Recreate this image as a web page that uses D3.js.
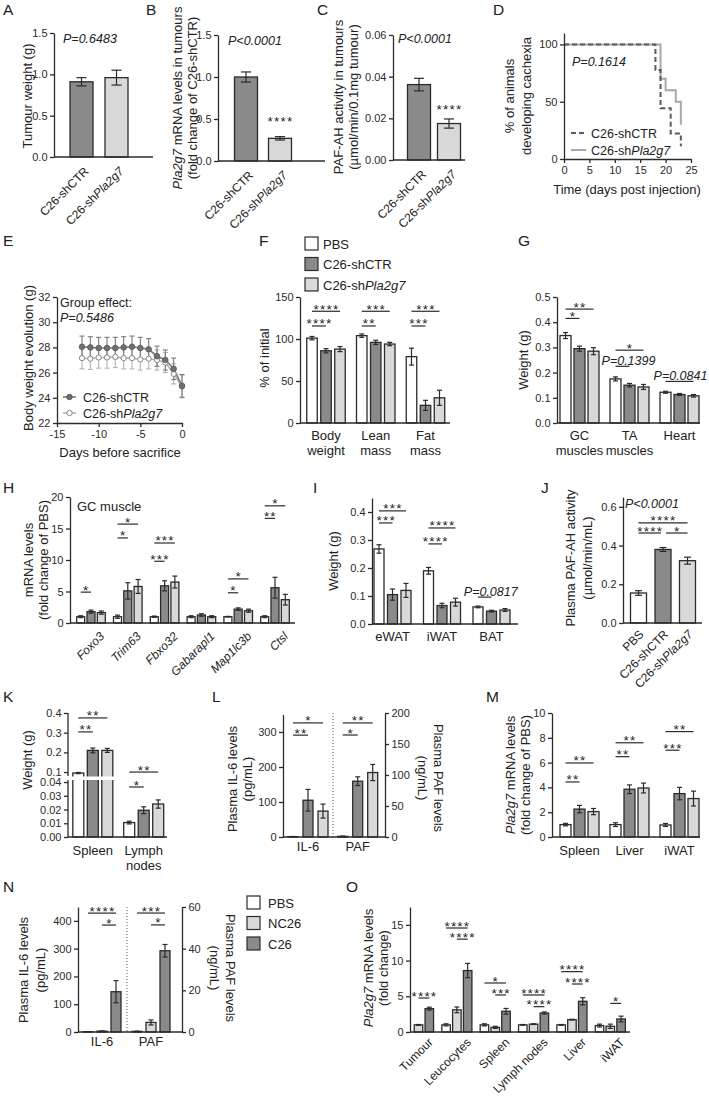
<!DOCTYPE html>
<html>
<head>
<meta charset="utf-8">
<script src="https://cdn.jsdelivr.net/npm/d3@7"></script>
<style>
  body { margin: 0; background: #fff; }
  svg { font-family: Arial, "Liberation Sans", sans-serif; }
  text { fill: #222; }
</style>
</head>
<body>
<script>
// ---------------- data ----------------
const treat3 = ['PBS', 'C26-shCTR', 'C26-shPla2g7'];
const treatN = ['PBS', 'NC26', 'C26'];

// A-C tumours
const tumourCats = ['C26-shCTR', 'C26-shPla2g7'];
const tumourWeight = [0.91, 0.96];
const tumourWeightSem = [0.05, 0.09];
const tumourPla2g7 = [1.0, 0.27];
const tumourPla2g7Sem = [0.06, 0.02];
const tumourPafAh = [0.0362, 0.0175];
const tumourPafAhSem = [0.003, 0.0022];

// D cachexia onset (Kaplan-Meier)
const kmCtrDays = [0, 18, 19, 21, 23];
const kmCtrPct = [100, 77.8, 44.4, 22.2, 11.1];
const kmPlaDays = [0, 19, 20, 22, 23];
const kmPlaPct = [100, 70, 60, 50, 30];

// E body weight
const daysBefore = [-12, -11, -10, -9, -8, -7, -6, -5, -4, -3, -2, -1, 0];
const bwCtr = [28.05, 28.0, 27.95, 27.95, 27.95, 28.0, 28.05, 27.95, 27.85, 27.3, 27.0, 26.3, 24.95];
const bwCtrSem = [0.85, 0.85, 0.85, 0.85, 0.85, 0.85, 0.85, 0.85, 0.85, 0.8, 0.8, 0.85, 0.9];
const bwPla = [27.15, 27.1, 27.2, 27.2, 27.25, 27.15, 27.15, 27.05, 27.1, 27.0, 26.8, 25.9, 24.9];
const bwPlaSem = [0.85, 0.85, 0.85, 0.85, 0.85, 0.85, 0.85, 0.85, 0.8, 0.8, 0.8, 0.8, 0.9];

// F body composition (% of initial)
const compCats = ['Body weight', 'Lean mass', 'Fat mass'];
const compVals = [[101, 104, 79], [86, 96, 21], [88, 94, 30]];
const compSem = [[2, 2, 10], [2.5, 2.5, 6], [3, 2, 9]];

// G muscle weights
const muscleCats = ['GC muscles', 'TA muscles', 'Heart'];
const muscleVals = [[0.347, 0.175, 0.122], [0.295, 0.15, 0.113], [0.285, 0.143, 0.108]];
const muscleSem = [[0.012, 0.008, 0.004], [0.01, 0.007, 0.004], [0.014, 0.01, 0.005]];

// H atrophy genes
const geneCats = ['Foxo3', 'Trim63', 'Fbxo32', 'Gabarapl1', 'Map1lc3b', 'Ctsl'];
const geneVals = [[1, 1, 1, 1, 1, 1], [1.8, 5.1, 5.9, 1.27, 2.2, 5.6], [1.65, 5.8, 6.5, 1.0, 1.95, 3.7]];
const geneSem = [[0.15, 0.25, 0.1, 0.15, 0.05, 0.15], [0.25, 1.3, 0.8, 0.2, 0.2, 1.65], [0.25, 1.1, 0.95, 0.15, 0.25, 0.85]];

// I adipose weights
const fatCats = ['eWAT', 'iWAT', 'BAT'];
const fatVals = [[0.268, 0.19, 0.061], [0.105, 0.066, 0.046], [0.12, 0.078, 0.05]];
const fatSem = [[0.015, 0.012, 0.003], [0.02, 0.008, 0.003], [0.025, 0.014, 0.005]];

// J plasma PAF-AH
const plasmaPafAh = [0.155, 0.38, 0.322];
const plasmaPafAhSem = [0.012, 0.01, 0.018];

// K lymphoid organs
const lymphCats = ['Spleen', 'Lymph nodes'];
const lymphVals = [[0.095, 0.0105], [0.21, 0.0195], [0.21, 0.024]];
const lymphSem = [[0.003, 0.001], [0.012, 0.0025], [0.01, 0.003]];

// L plasma IL-6 (pg/mL) and PAF (ng/mL)
const plasmaCats = ['IL-6', 'PAF'];
const plasmaVals = [[1, 1], [105, 90], [74, 104]];
const plasmaSem = [[0.5, 0.5], [31, 7], [20, 13]];

// M Pla2g7 in tissues
const tissueCats = ['Spleen', 'Liver', 'iWAT'];
const tissueVals = [[1.0, 1.0, 0.97], [2.25, 3.85, 3.5], [2.05, 3.95, 3.1]];
const tissueSem = [[0.1, 0.15, 0.12], [0.3, 0.35, 0.5], [0.25, 0.4, 0.6]];

// N NC26 vs C26 plasma
const ncPlasmaVals = [[1, 0.3], [3, 4.6], [145, 39]];
const ncPlasmaSem = [[0.5, 0.1], [1, 1.2], [40, 3]];

// O Pla2g7 across tissues
const organCats = ['Tumour', 'Leucocytes', 'Spleen', 'Lymph nodes', 'Liver', 'iWAT'];
const organVals = [[null, 1, 1, 1, 1, 0.9], [1, 3.1, 0.65, 1.1, 1.73, 0.8], [3.27, 8.6, 2.9, 2.66, 4.3, 1.82]];
const organSem = [[null, 0.15, 0.15, 0.05, 0.05, 0.2], [0.05, 0.4, 0.15, 0.05, 0.05, 0.3], [0.2, 1.0, 0.4, 0.15, 0.5, 0.4]];

// ---------------- drawing ----------------
const INK = '#2b2b2b', DARK = '#8a8a8a', LIGHT = '#d9d9d9', WHITE = '#ffffff';
const FILL3 = [WHITE, DARK, LIGHT];
const FILLN = [WHITE, LIGHT, DARK];
const FONT = 'Arial, "Liberation Sans", sans-serif';

const svg = d3.select('body').append('svg').attr('width', 709).attr('height', 1099);

const lab = s => s.split(/(Pla2g7)/).filter(Boolean).map(p => p === 'Pla2g7' ? {t: p} : p);

function rich(sel, parts) {
  parts.forEach(p => {
    const ts = sel.append('tspan').text(typeof p === 'string' ? p : p.t);
    if (typeof p !== 'string') ts.attr('font-style', 'italic');
  });
  return sel;
}

function text(x, y, s, o = {}) {
  const t = svg.append('text')
    .attr('transform', `translate(${x},${y})` + (o.rot ? ` rotate(${o.rot})` : ''))
    .attr('font-size', o.size || 13)
    .attr('text-anchor', o.anchor || 'start');
  if (o.italic) t.attr('font-style', 'italic');
  if (o.mid) t.attr('dominant-baseline', 'central');
  return rich(t, Array.isArray(s) ? s : lab(s));
}

// bands centred on given positions
function bandAt(domain, c0, c1, fill) {
  const n = domain.length, step = (c1 - c0) / (n - 1);
  return d3.scaleBand().domain(domain).range([c0 - step / 2, c1 + step / 2])
    .paddingInner(1 - fill).paddingOuter((1 - fill) / 2);
}
const mid = (b, k) => b(k) + b.bandwidth() / 2;

function styleAxis(g) {
  g.attr('font-family', FONT).attr('font-size', 11).attr('color', INK);
  g.selectAll('.domain, .tick line').attr('stroke-width', 1.3);
  g.selectAll('.tick text').style('fill', INK);
  return g;
}
function axisL(x, y, ticks, fmt) {
  return styleAxis(svg.append('g').attr('transform', `translate(${x},0)`)
    .call(d3.axisLeft(y).tickValues(ticks).tickFormat(fmt).tickSize(4).tickPadding(2.5).tickSizeOuter(0)));
}
function axisR(x, y, ticks, fmt) {
  return styleAxis(svg.append('g').attr('transform', `translate(${x},0)`)
    .call(d3.axisRight(y).tickValues(ticks).tickFormat(fmt).tickSize(4).tickPadding(2.5).tickSizeOuter(0)));
}
function baseLine(x0, x1, y) {
  svg.append('line').attr('x1', x0).attr('x2', x1).attr('y1', y).attr('y2', y)
    .attr('stroke', INK).attr('stroke-width', 1.3);
}

function drawBars(recs) {
  const g = svg.append('g');
  g.selectAll('rect').data(recs).join('rect')
    .attr('x', d => d.cx - d.bw / 2).attr('y', d => d.y(d.v))
    .attr('width', d => d.bw).attr('height', d => d.y(0) - d.y(d.v))
    .attr('fill', d => d.fill).attr('stroke', INK).attr('stroke-width', 1.3);
  const eb = g.selectAll('g.eb').data(recs.filter(d => d.e > 0)).join('g').attr('class', 'eb')
    .attr('stroke', INK).attr('stroke-width', 1.2);
  eb.append('line').attr('x1', d => d.cx).attr('x2', d => d.cx)
    .attr('y1', d => d.y(d.v - d.e)).attr('y2', d => d.y(d.v + d.e));
  [1, -1].forEach(s => eb.append('line')
    .attr('x1', d => d.cx - Math.max(2.5, d.bw * 0.22)).attr('x2', d => d.cx + Math.max(2.5, d.bw * 0.22))
    .attr('y1', d => d.y(d.v + s * d.e)).attr('y2', d => d.y(d.v + s * d.e)));
}

function groupedRecs(groups, series, vals, sems, fills, gx, sx, yFor) {
  const recs = [];
  series.forEach((s, si) => groups.forEach((grp, gi) => {
    const v = vals[si][gi];
    if (v == null) return;
    recs.push({cx: mid(gx, grp) + mid(sx, s), bw: sx.bandwidth(), v, e: sems[si][gi], fill: fills[si], y: yFor(gi)});
  }));
  drawBars(recs);
}
function simpleRecs(cats, vals, sems, fills, x, y) {
  drawBars(cats.map((c, i) => ({cx: mid(x, c), bw: x.bandwidth(), v: vals[i], e: sems[i], fill: fills[i], y})));
}

function sig(x1, x2, y, label) {
  svg.append('line').attr('x1', x1).attr('x2', x2).attr('y1', y).attr('y2', y)
    .attr('stroke', INK).attr('stroke-width', 1.2);
  svg.append('text').attr('x', (x1 + x2) / 2 + 0.5).attr('y', y + 2.5).attr('text-anchor', 'middle')
    .attr('font-size', 13.5).attr('letter-spacing', 1.2).text(label);
}
function pSig(x1, x2, y, label, dx) {
  svg.append('line').attr('x1', x1).attr('x2', x2).attr('y1', y).attr('y2', y)
    .attr('stroke', INK).attr('stroke-width', 1.2);
  text((x1 + x2) / 2 + dx, y - 1.5, [{t: label}], {size: 12.5, anchor: 'middle'});
}
function groupSigs(list, gx, sx, groups, series, yFor) {
  list.forEach(([gi, a, b, v, l]) => {
    const c = mid(gx, groups[gi]);
    sig(c + mid(sx, series[a]), c + mid(sx, series[b]), yFor(gi)(v), l);
  });
}

function rotLabels(cats, xOf, y0, dx, dy, italic, size = 12) {
  cats.forEach(c => text(xOf(c) + dx, y0 + dy, italic ? [{t: c}] : lab(c), {rot: -45, anchor: 'end', size}));
}
function flatLabels(cats, xOf, yBase) {
  cats.forEach(c => c.split(' ').forEach((w, i) => text(xOf(c), yBase + i * 14.5, w, {anchor: 'middle'})));
}
function yTitle(lines, xs, yc, rot = -90) {
  lines.forEach((l, i) => text(xs[i], yc, l, {rot, anchor: 'middle', mid: true}));
}
function letter(l, x, y) {
  svg.append('text').attr('x', x).attr('y', y).attr('font-size', 15.5).text(l);
}
const f1 = d3.format('.1f'), f2 = d3.format('.2f');

// ---------- A ----------
letter('A', 3, 15);
const yA = d3.scaleLinear().domain([0, 1.5]).range([157, 33]);
const xA = bandAt(tumourCats, 81.5, 116.5, 23 / 35);
simpleRecs(tumourCats, tumourWeight, tumourWeightSem, [DARK, LIGHT], xA, yA);
axisL(54, yA, [0, 0.5, 1, 1.5], f1);
baseLine(54, 153, yA(0));
text(63, 43, [{t: 'P=0.6483'}], {size: 12.5});
rotLabels(tumourCats, c => mid(xA, c), 157, 8, 15, false);
yTitle(['Tumour weight (g)'], [27], 96);

// ---------- B ----------
letter('B', 146, 15);
const yB = d3.scaleLinear().domain([0, 1.5]).range([161, 35]);
const xB = bandAt(tumourCats, 246, 280, 23 / 34);
simpleRecs(tumourCats, tumourPla2g7, tumourPla2g7Sem, [DARK, LIGHT], xB, yB);
axisL(218, yB, [0, 0.5, 1, 1.5], f1);
baseLine(218, 325, yB(0));
text(228, 45, [{t: 'P<0.0001'}], {size: 12.5});
svg.append('text').attr('x', mid(xB, tumourCats[1]) + 0.5).attr('y', yB(0.5) + 7).attr('text-anchor', 'middle')
  .attr('font-size', 13.5).attr('letter-spacing', 1.2).text('****');
rotLabels(tumourCats, c => mid(xB, c), 161, 8, 15, false);
yTitle(['Pla2g7 mRNA levels in tumours', '(fold change of C26-shCTR)'], [177, 192], 98);

// ---------- C ----------
letter('C', 317, 15);
const yC = d3.scaleLinear().domain([0, 0.06]).range([160, 35]);
const xC = bandAt(tumourCats, 419, 449, 23 / 30);
simpleRecs(tumourCats, tumourPafAh, tumourPafAhSem, [DARK, LIGHT], xC, yC);
axisL(393, yC, [0, 0.02, 0.04, 0.06], f2);
baseLine(393, 465, yC(0));
text(398, 43, [{t: 'P<0.0001'}], {size: 12.5});
svg.append('text').attr('x', mid(xC, tumourCats[1]) + 0.5).attr('y', yC(0.025) + 6).attr('text-anchor', 'middle')
  .attr('font-size', 13.5).attr('letter-spacing', 1.2).text('****');
rotLabels(tumourCats, c => mid(xC, c), 160, 8, 15, false);
yTitle(['PAF-AH activity in tumours', '(\u00b5mol/min/0.1mg tumour)'], [338, 353], 97);

// ---------- D ----------
letter('D', 493, 15);
const xD = d3.scaleLinear().domain([0, 25]).range([564, 691]);
const yD = d3.scaleLinear().domain([0, 110]).range([159, 33]);
const stepLine = d3.line().x(d => xD(d[0])).y(d => yD(d[1])).curve(d3.curveStepAfter);
svg.append('path').datum(d3.zip(kmPlaDays, kmPlaPct)).attr('d', stepLine)
  .attr('fill', 'none').attr('stroke', '#a8a8a8').attr('stroke-width', 2);
svg.append('path').datum(d3.zip(kmCtrDays, kmCtrPct)).attr('d', stepLine)
  .attr('fill', 'none').attr('stroke', '#5a5a5a').attr('stroke-width', 2).attr('stroke-dasharray', '5,3');
axisL(564, yD, [0, 50, 100], d3.format('d'));
styleAxis(svg.append('g').attr('transform', `translate(0,${yD(0)})`)
  .call(d3.axisBottom(xD).tickValues([0, 5, 10, 15, 20, 25]).tickSize(4).tickSizeOuter(0)));
text(572, 66, [{t: 'P=0.1614'}], {size: 12.5});
svg.append('line').attr('x1', 571).attr('x2', 586).attr('y1', 133).attr('y2', 133)
  .attr('stroke', '#5a5a5a').attr('stroke-width', 2).attr('stroke-dasharray', '5,3');
svg.append('line').attr('x1', 571).attr('x2', 586).attr('y1', 150).attr('y2', 150)
  .attr('stroke', '#a8a8a8').attr('stroke-width', 2);
text(591, 137.5, 'C26-shCTR', {size: 12.5});
text(591, 154.5, 'C26-shPla2g7', {size: 12.5});
yTitle(['% of animals', 'developing cachexia'], [509, 526], 96);
text(627, 194, 'Time (days post injection)', {anchor: 'middle'});

// ---------- E ----------
letter('E', 3, 246);
const xE = d3.scaleLinear().domain([-15, 0]).range([57, 182]);
const yE = d3.scaleLinear().domain([22, 32]).range([423, 297]);
const ptsCtr = daysBefore.map((d, i) => ({d, v: bwCtr[i], e: bwCtrSem[i]}));
const ptsPla = daysBefore.map((d, i) => ({d, v: bwPla[i], e: bwPlaSem[i]}));
[[ptsPla, '#b3b3b3'], [ptsCtr, '#7a7a7a']].forEach(([pts, col]) => {
  const g = svg.append('g').attr('stroke', col).attr('stroke-width', 1.1);
  g.selectAll('line.v').data(pts).join('line').attr('class', 'v')
    .attr('x1', p => xE(p.d)).attr('x2', p => xE(p.d)).attr('y1', p => yE(p.v - p.e)).attr('y2', p => yE(p.v + p.e));
  [1, -1].forEach(s => g.selectAll('line.c' + s).data(pts).join('line').attr('class', 'c' + s)
    .attr('x1', p => xE(p.d) - 2.5).attr('x2', p => xE(p.d) + 2.5)
    .attr('y1', p => yE(p.v + s * p.e)).attr('y2', p => yE(p.v + s * p.e)));
});
const lineE = d3.line().x(p => xE(p.d)).y(p => yE(p.v));
svg.append('path').datum(ptsPla).attr('d', lineE).attr('fill', 'none').attr('stroke', '#b3b3b3').attr('stroke-width', 1.6);
svg.append('path').datum(ptsCtr).attr('d', lineE).attr('fill', 'none').attr('stroke', '#7a7a7a').attr('stroke-width', 1.6);
svg.append('g').selectAll('circle').data(ptsPla).join('circle')
  .attr('cx', p => xE(p.d)).attr('cy', p => yE(p.v)).attr('r', 2.6)
  .attr('fill', '#fff').attr('stroke', '#8a8a8a').attr('stroke-width', 1);
svg.append('g').selectAll('circle').data(ptsCtr).join('circle')
  .attr('cx', p => xE(p.d)).attr('cy', p => yE(p.v)).attr('r', 2.8)
  .attr('fill', '#707070').attr('stroke', '#555').attr('stroke-width', 0.8);
axisL(57, yE, [22, 24, 26, 28, 30, 32], d3.format('d'));
styleAxis(svg.append('g').attr('transform', `translate(0,${yE(22)})`)
  .call(d3.axisBottom(xE).tickValues([-15, -10, -5, 0]).tickFormat(d => String(d)).tickSize(4).tickSizeOuter(0)));
text(60, 307, 'Group effect:', {size: 12.5});
text(60, 322, [{t: 'P=0.5486'}], {size: 12.5});
[[397, '#7a7a7a', '#707070'], [413, '#b3b3b3', '#fff']].forEach(([y, col, fill]) => {
  svg.append('line').attr('x1', 63).attr('x2', 76).attr('y1', y).attr('y2', y).attr('stroke', col).attr('stroke-width', 1.6);
  svg.append('circle').attr('cx', 69.5).attr('cy', y).attr('r', 2.7).attr('fill', fill).attr('stroke', fill === '#fff' ? '#8a8a8a' : '#555');
});
text(83, 401.5, 'C26-shCTR', {size: 12.5});
text(83, 417.5, 'C26-shPla2g7', {size: 12.5});
yTitle(['Body weight evolution (g)'], [28], 358);
text(120, 457, 'Days before sacrifice', {anchor: 'middle'});

// ---------- F ----------
letter('F', 259, 246);
const yF = d3.scaleLinear().domain([0, 150]).range([423, 297]);
const gF = bandAt(compCats, 326, 425.5, 1);
const sF = bandAt(treat3, -14, 14, 10.5 / 14);
groupedRecs(compCats, treat3, compVals, compSem, FILL3, gF, sF, () => yF);
axisL(300, yF, [0, 50, 100, 150], d3.format('d'));
baseLine(300, 450, yF(0));
groupSigs([[0, 0, 2, 133, '****'], [0, 0, 1, 115.5, '****'], [1, 0, 2, 133, '***'], [1, 0, 1, 115.5, '**'],
  [2, 0, 2, 133, '***'], [2, 0, 1, 115.5, '***']], gF, sF, compCats, treat3, () => yF);
flatLabels(compCats, c => mid(gF, c), 440);
yTitle(['% of initial'], [264], 358);
treat3.forEach((t, i) => {
  svg.append('rect').attr('x', 305).attr('y', 237 + i * 20.5).attr('width', 13).attr('height', 13)
    .attr('fill', FILL3[i]).attr('stroke', INK).attr('stroke-width', 1.2);
  text(323, 248.5 + i * 20.5, t, {size: 13});
});

// ---------- G ----------
letter('G', 518, 246);
const yG = d3.scaleLinear().domain([0, 0.5]).range([423, 297]);
const gG = bandAt(muscleCats, 579.5, 679.5, 1);
const sG = bandAt(treat3, -14, 14, 11 / 14);
groupedRecs(muscleCats, treat3, muscleVals, muscleSem, FILL3, gG, sG, () => yG);
axisL(557, yG, [0, 0.1, 0.2, 0.3, 0.4, 0.5], f1);
baseLine(557, 700, yG(0));
groupSigs([[0, 0, 2, 0.452, '**'], [0, 0, 1, 0.415, '*'], [1, 0, 2, 0.289, '*']], gG, sG, muscleCats, treat3, () => yG);
pSig(mid(gG, muscleCats[1]) + mid(sG, treat3[0]), mid(gG, muscleCats[1]) + mid(sG, treat3[1]), yG(0.225), 'P=0.1399', 6);
pSig(mid(gG, muscleCats[2]) + mid(sG, treat3[0]), mid(gG, muscleCats[2]) + mid(sG, treat3[2]), yG(0.165), 'P=0.0841', 1);
flatLabels(muscleCats, c => mid(gG, c), 440);
yTitle(['Weight (g)'], [523], 360);

// ---------- H ----------
letter('H', 3, 493);
const yH = d3.scaleLinear().domain([0, 20]).range([623, 497]);
const gH = bandAt(geneCats, 91, 275, 1);
const sH = bandAt(treat3, -10.3, 10.3, 8 / 10.3);
groupedRecs(geneCats, treat3, geneVals, geneSem, FILL3, gH, sH, () => yH);
axisL(70, yH, [0, 5, 10, 15, 20], d3.format('d'));
baseLine(70, 295, yH(0));
groupSigs([[0, 0, 1, 4.9, '*'], [1, 0, 2, 15.7, '*'], [1, 0, 1, 13.5, '*'], [2, 0, 2, 12.7, '***'], [2, 0, 1, 9.8, '***'],
  [4, 0, 2, 7.0, '*'], [4, 0, 1, 4.8, '*'], [5, 0, 2, 18.6, '*'], [5, 0, 1, 16.6, '**']], gH, sH, geneCats, treat3, () => yH);
text(77, 511, 'GC muscle', {size: 13});
rotLabels(geneCats, c => mid(gH, c), 623, 14, 14, true);
yTitle(['mRNA levels', '(fold change of PBS)'], [28, 43], 560);

// ---------- I ----------
letter('I', 313, 493);
const yI = d3.scaleLinear().domain([0, 0.45]).range([624, 498]);
const gI = bandAt(fatCats, 392.5, 491.5, 1);
const sI = bandAt(treat3, -13.5, 13.5, 10 / 13.5);
groupedRecs(fatCats, treat3, fatVals, fatSem, FILL3, gI, sI, () => yI);
axisL(372, yI, [0, 0.1, 0.2, 0.3, 0.4], f1);
baseLine(372, 518, yI(0));
groupSigs([[0, 0, 2, 0.404, '***'], [0, 0, 1, 0.361, '***'], [1, 0, 2, 0.343, '****'], [1, 0, 1, 0.286, '****']],
  gI, sI, fatCats, treat3, () => yI);
pSig(mid(gI, fatCats[2]) + mid(sI, treat3[0]), mid(gI, fatCats[2]) + mid(sI, treat3[1]), yI(0.096), 'P=0.0817', 6);
flatLabels(fatCats, c => mid(gI, c), 641);
yTitle(['Weight (g)'], [333], 561);

// ---------- J ----------
letter('J', 541, 493);
const yJ = d3.scaleLinear().domain([0, 0.65]).range([623, 497.2]);
const xJ = bandAt(treat3, 638.5, 687.5, 16 / 24.5);
simpleRecs(treat3, plasmaPafAh, plasmaPafAhSem, FILL3, xJ, yJ);
axisL(623, yJ, [0, 0.2, 0.4, 0.6], f1);
baseLine(623, 702, yJ(0));
[[0, 2, 0.517, '****'], [0, 1, 0.465, '****'], [1, 2, 0.465, '*']].forEach(([a, b, v, l]) =>
  sig(mid(xJ, treat3[a]) + (a === 1 ? 3 : 0), mid(xJ, treat3[b]) - (a === 0 && b === 1 ? 2 : 0), yJ(v), l));
text(625, 508, [{t: 'P<0.0001'}], {size: 12.5});
rotLabels(treat3, c => mid(xJ, c), 623, 6, 12, false);
yTitle(['Plasma PAF-AH activity', '(\u00b5mol/min/mL)'], [570, 587], 558);

// ---------- K ----------
letter('K', 3, 702);
const yK = d3.scaleLinear().domain([0, 0.0415, 0.08, 0.4]).range([837, 780, 776, 713]);
const gK = bandAt(lymphCats, 92.8, 143.7, 1);
const sK = bandAt(treat3, -14.5, 14.5, 11 / 14.5);
groupedRecs(lymphCats, treat3, lymphVals, lymphSem, FILL3, gK, sK, () => yK);
svg.append('rect').attr('x', 60).attr('y', yK(0.08) + 0.5).attr('width', 110).attr('height', yK(0.0415) - yK(0.08) - 0.5).attr('fill', '#fff');
const kTop = axisL(68, yK, [0.1, 0.2, 0.3, 0.4], f1);
const kBot = axisL(68, yK, [0, 0.01, 0.02, 0.03, 0.04], f2);
kTop.select('.domain').remove();
kBot.select('.domain').remove();
[[0.4, 0.08], [0.0415, 0]].forEach(([a, b]) =>
  svg.append('line').attr('x1', 68).attr('x2', 68).attr('y1', yK(a)).attr('y2', yK(b)).attr('stroke', INK).attr('stroke-width', 1.3));
baseLine(68, 167, yK(0));
groupSigs([[0, 0, 2, 0.375, '**'], [0, 0, 1, 0.304, '**'], [1, 0, 2, 0.1, '**'], [1, 0, 1, 0.0364, '*']],
  gK, sK, lymphCats, treat3, () => yK);
flatLabels(lymphCats, c => mid(gK, c), 855);
yTitle(['Weight (g)'], [27], 760);

// ---------- L ----------
letter('L', 212, 702);
const yL = d3.scaleLinear().domain([0, 350]).range([837, 714.5]);
const yL2 = d3.scaleLinear().domain([0, 200]).range([837, 713]);
const gL = bandAt(plasmaCats, 308, 357.7, 1);
const sL = bandAt(treat3, -15, 15, 10 / 15);
const yForL = gi => (gi === 0 ? yL : yL2);
groupedRecs(plasmaCats, treat3, plasmaVals, plasmaSem, FILL3, gL, sL, yForL);
svg.append('line').attr('x1', 333).attr('x2', 333).attr('y1', 713).attr('y2', 837)
  .attr('stroke', '#555').attr('stroke-width', 1).attr('stroke-dasharray', '1,2');
axisL(283, yL, [0, 100, 200, 300], d3.format('d'));
axisR(385, yL2, [0, 50, 100, 150, 200], d3.format('d'));
baseLine(283, 385, 837);
groupSigs([[0, 0, 2, 326, '*'], [0, 0, 1, 291, '**'], [1, 0, 2, 184, '**'], [1, 0, 1, 164.5, '*']],
  gL, sL, plasmaCats, treat3, yForL);
flatLabels(plasmaCats, c => mid(gL, c), 851);
yTitle(['Plasma IL-6 levels', '(pg/mL)'], [232, 247], 779);
yTitle(['Plasma PAF levels', '(ng/mL)'], [439, 423], 778, 90);

// ---------- M ----------
letter('M', 486, 702);
const yM = d3.scaleLinear().domain([0, 10]).range([837, 713]);
const gM = bandAt(tissueCats, 579.5, 679.5, 1);
const sM = bandAt(treat3, -14, 14, 11 / 14);
groupedRecs(tissueCats, treat3, tissueVals, tissueSem, FILL3, gM, sM, () => yM);
axisL(552, yM, [0, 2, 4, 6, 8, 10], d3.format('d'));
baseLine(552, 700, yM(0));
groupSigs([[0, 0, 2, 5.97, '**'], [0, 0, 1, 4.44, '**'], [1, 0, 2, 7.6, '**'], [1, 0, 1, 6.48, '**'],
  [2, 0, 2, 8.5, '**'], [2, 0, 1, 7.0, '***']], gM, sM, tissueCats, treat3, () => yM);
flatLabels(tissueCats, c => mid(gM, c), 855);
yTitle(['Pla2g7 mRNA levels', '(fold change of PBS)'], [510, 525], 775);

// ---------- N ----------
letter('N', 3, 892);
const yN = d3.scaleLinear().domain([0, 450]).range([1032, 907]);
const yN2 = d3.scaleLinear().domain([0, 60]).range([1032, 907]);
const gN = bandAt(plasmaCats, 102, 151, 1);
const sN = bandAt(treatN, -14, 14, 10 / 14);
const yForN = gi => (gi === 0 ? yN : yN2);
groupedRecs(plasmaCats, treatN, ncPlasmaVals, ncPlasmaSem, FILLN, gN, sN, yForN);
svg.append('line').attr('x1', 127).attr('x2', 127).attr('y1', 907).attr('y2', 1032)
  .attr('stroke', '#555').attr('stroke-width', 1).attr('stroke-dasharray', '1,2');
axisL(78, yN, [0, 100, 200, 300, 400], d3.format('d'));
axisR(182, yN2, [0, 20, 40, 60], d3.format('d'));
baseLine(78, 182, 1032);
groupSigs([[0, 0, 2, 428, '****'], [0, 1, 2, 385, '*'], [1, 0, 2, 57.1, '***'], [1, 1, 2, 51.4, '*']],
  gN, sN, plasmaCats, treatN, yForN);
flatLabels(plasmaCats, c => mid(gN, c), 1046);
yTitle(['Plasma IL-6 levels', '(pg/mL)'], [23, 40], 970);
yTitle(['Plasma PAF levels', '(ng/mL)'], [231, 215], 968, 90);
treatN.forEach((t, i) => {
  svg.append('rect').attr('x', 247).attr('y', 896 + i * 20.5).attr('width', 13).attr('height', 13)
    .attr('fill', FILLN[i]).attr('stroke', INK).attr('stroke-width', 1.2);
  text(268, 907.5 + i * 20.5, t, {size: 13});
});

// ---------- O ----------
letter('O', 346, 892);
const yO = d3.scaleLinear().domain([0, 17.5]).range([1032, 907]);
const gO = bandAt(organCats, 418.5, 610.3, 1);
const sO = bandAt(treatN, -10.8, 10.8, 8.5 / 10.8);
groupedRecs(organCats, treatN, organVals, organSem, FILLN, gO, sO, () => yO);
axisL(410, yO, [0, 5, 10, 15], d3.format('d'));
baseLine(410, 630, yO(0));
groupSigs([[0, 1, 2, 4.76, '****'], [1, 0, 2, 14.56, '****'], [1, 1, 2, 13.0, '****'], [2, 0, 2, 6.86, '*'],
  [2, 1, 2, 5.18, '***'], [3, 0, 2, 5.18, '****'], [3, 1, 2, 3.55, '****'], [4, 0, 2, 8.45, '****'],
  [4, 1, 2, 6.72, '****'], [5, 1, 2, 4.0, '*']], gO, sO, organCats, treatN, () => yO);
rotLabels(organCats, c => mid(gO, c), 1032, 15, 11, false);
yTitle(['Pla2g7 mRNA levels', '(fold change)'], [368, 383], 968);
</script>
</body>
</html>
